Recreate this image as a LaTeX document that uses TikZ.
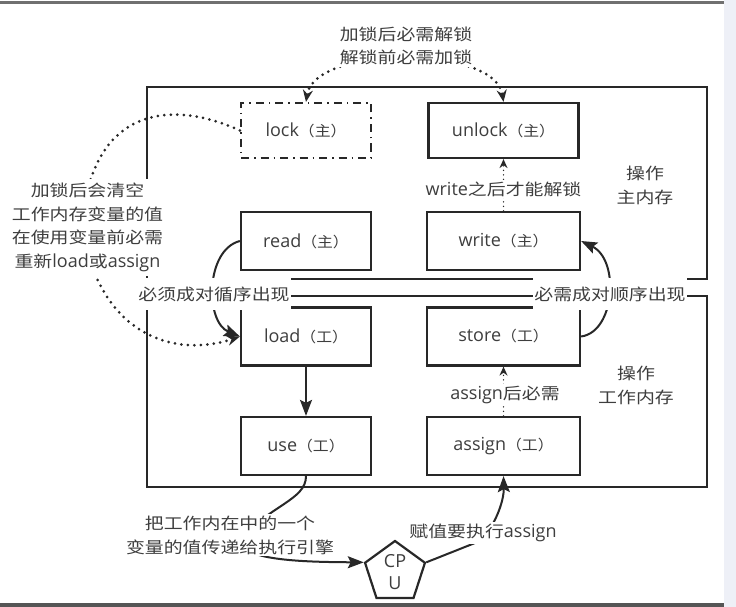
\documentclass[tikz,border=0pt]{standalone}
\usepackage{fontspec}
\setmainfont{Open Sans}
\newfontfamily\cjkL{Noto Sans CJK SC}[Scale=0.89,FakeStretch=1.18]
\newfontfamily\cjkB{Noto Sans CJK SC}[Scale=0.8,FakeStretch=1.1]
\usetikzlibrary{arrows.meta,shapes.geometric}
\definecolor{ink}{RGB}{40,40,40}
\definecolor{txt}{RGB}{62,62,62}
\definecolor{chromeR}{RGB}{238,240,247}
\definecolor{chromeT}{RGB}{112,112,112}
\definecolor{chromeB}{RGB}{85,85,85}
\newcommand\LZ[1]{{\cjkL #1}}
\newcommand\BZ[1]{{\cjkB #1}}
\tikzset{
  container/.style={draw=ink, line width=2.2pt, rectangle, inner sep=0pt},
  box/.style={draw=ink, line width=2.2pt, rectangle, inner sep=0pt, minimum height=58pt, text=txt, font=\fontsize{18}{20}\selectfont},
  lockbox/.style={box, dash pattern=on 8pt off 5pt on 1.5pt off 5pt},
  lbl/.style={fill=white, text=txt, font=\fontsize{18}{23.5}\selectfont, align=center, inner sep=2pt},
  plainlbl/.style={text=txt, font=\fontsize{18}{24}\selectfont, align=center, inner sep=1pt},
  conn/.style={draw=ink, line width=2pt, -{Stealth[length=16pt,width=12pt,inset=3pt]}},
  bigdot/.style={draw=ink, line width=3pt, line cap=round, dash pattern=on 0pt off 6.5pt},
  smalldot/.style={draw=ink, line width=1.5pt, line cap=round, dash pattern=on 0pt off 4.5pt, -{Stealth[length=9pt,width=8pt]}},
  cpushape/.style={regular polygon, regular polygon sides=5, draw=ink, line width=2.2pt, minimum size=63pt, inner sep=0pt, align=center, text=txt, font=\fontsize{18}{22}\selectfont}
}
\begin{document}
\begin{tikzpicture}[x=1pt,y=-1pt]
\useasboundingbox (0,0) rectangle (736,607);
% screenshot chrome
\fill[white] (0,0) rectangle (736,607);
\fill[chromeR] (724,0) rectangle (736,607);
\fill[chromeT] (0,1) rectangle (724,4);
\fill[chromeB] (0,603) rectangle (724,607);

% containers
\node[container, minimum width=560pt, minimum height=192pt] (mainmem) at (427,183) {};
\node[container, minimum width=560pt, minimum height=191pt] (workmem) at (427,391.5) {};

% operation boxes
\node[lockbox, minimum width=130pt, minimum height=55pt] (lock) at (306,130.5) {lock\BZ{（主）}};
\node[box, minimum width=150pt, minimum height=55pt] (unlock) at (503.5,130.5) {unlock\BZ{（主）}};
\node[box, minimum width=130pt] (read) at (306,241) {read\BZ{（主）}};
\node[box, minimum width=153pt] (write) at (503.5,241) {write\BZ{（主）}};
\node[box, minimum width=130pt] (load) at (306,336.5) {load\BZ{（工）}};
\node[box, minimum width=153pt] (store) at (503.5,336.5) {store\BZ{（工）}};
\node[box, minimum width=130pt] (use) at (306,446) {use\BZ{（工）}};
\node[box, minimum width=153pt] (assign) at (503.5,446) {assign\BZ{（工）}};

\node[cpushape] (cpu) at (395,572.5) {CP\\U};

% plain texts
\node[plainlbl] (opmain) at (645,185) {\LZ{操作}\\\LZ{主内存}};
\node[plainlbl] (opwork) at (636,385) {\LZ{操作}\\\LZ{工作内存}};

% connectors
\draw[conn] (load.south) -- (use.north);
\draw[conn] (read.west) .. controls (205,250) and (205,322) .. (load.west);
\draw[conn] (store.east) .. controls (615,332) and (620,260) .. (write.east);
\draw[smalldot] (write.north) -- (unlock.south);
\draw[smalldot] (assign.north) -- (store.south);
\draw[bigdot, {Stealth[length=12pt,width=10pt]}-{Stealth[length=12pt,width=10pt]}] (lock.north) .. controls (315,45) and (495,45) .. (unlock.north);
\draw[bigdot, -{Stealth[length=13pt,width=10pt]}] (lock.west) .. controls (185,105) and (95,95) .. (82,222) .. controls (95,330) and (170,360) .. (load.west);
\draw[conn] (use.south) .. controls (306,500) and (270,505) .. (240,540) .. controls (240,560) and (300,562) .. (cpu.corner 2);
\draw[conn] (cpu.corner 5) -- (480,541) .. controls (496,525) and (504,500) .. (assign.south);

% labels on connectors
\node[lbl] (toplbl) at (406,46) {\LZ{加锁后必需解锁}\\\LZ{解锁前必需加锁}};
\node[lbl, inner ysep=4pt] (leftlbl) at (87.5,227.5) {\LZ{加锁后会清空}\\\LZ{工作内存变量的值}\\\LZ{在使用变量前必需}\\\LZ{重新}load\LZ{或}assign};
\node[lbl, inner ysep=9pt, inner xsep=1pt] (pairL) at (214,294) {\LZ{必须成对循序出现}};
\node[lbl, inner ysep=9pt, inner xsep=1pt] (pairR) at (610,294) {\LZ{必需成对顺序出现}};
\node[lbl] (wlbl) at (503.5,189) {write\LZ{之后才能解锁}};
\node[lbl] (albl) at (505,395) {assign\LZ{后必需}};
\node[lbl, font=\fontsize{18}{24}\selectfont] (uselbl) at (230,535) {\LZ{把工作内在中的一个}\\\LZ{变量的值传递给执行引擎}};
\node[lbl] (cpulbl) at (483,533) {\LZ{赋值要执行}assign};
\end{tikzpicture}
\end{document}
